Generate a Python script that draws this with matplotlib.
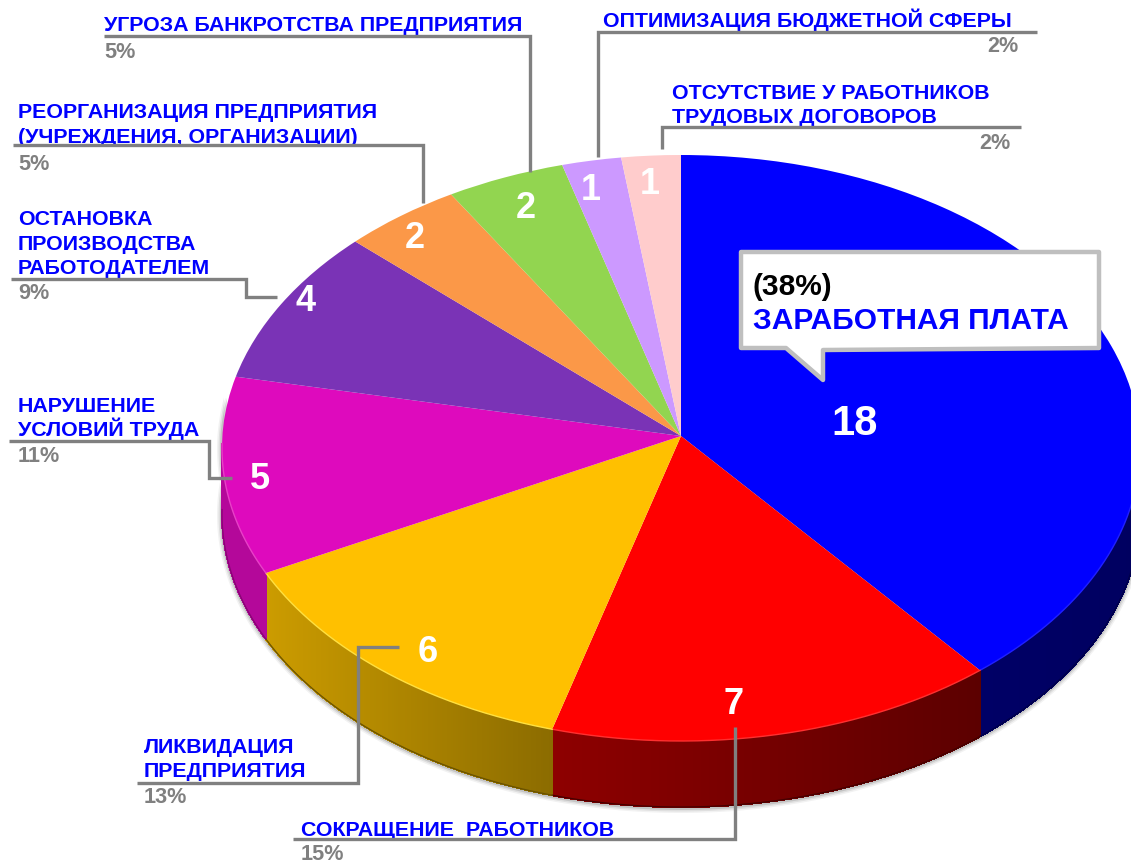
import numpy as np
import matplotlib
matplotlib.use("Agg")
import matplotlib.pyplot as plt
from matplotlib.collections import PolyCollection
from matplotlib.patches import Polygon

# ---- data ----
counts = [18, 7, 6, 5, 4, 2, 2, 1, 1]
count_labels = ["18", "7", "6", "5", "4", "2", "2", "1", "1"]
top_colors = ["#0000FF", "#FF0000", "#FFC000", "#DE0ABD", "#7A33B6", "#FB9848", "#92D550", "#CC99FF", "#FFCCCC"]
wall_left = ["#000066", "#8E0000", "#CC9C00", "#B4089A", "#5A2488", "#C0702F", "#6FA03C", "#9973BF", "#BF9999"]
wall_right = ["#000060", "#5C0000", "#8C6C00", "#B4089A", "#5A2488", "#C0702F", "#6FA03C", "#9973BF", "#BF9999"]
rim_colors = ["#2020FF", "#FF3030", "#FFE040", "#E840C8", "#8A44C6", "#FBA858", "#A2E560", "#D8B0FF", "#FFDDDD"]
category_labels = [
    "ЗАРАБОТНАЯ ПЛАТА", "СОКРАЩЕНИЕ  РАБОТНИКОВ", "ЛИКВИДАЦИЯ\nПРЕДПРИЯТИЯ",
    "НАРУШЕНИЕ\nУСЛОВИЙ ТРУДА", "ОСТАНОВКА\nПРОИЗВОДСТВА\nРАБОТОДАТЕЛЕМ",
    "РЕОРГАНИЗАЦИЯ ПРЕДПРИЯТИЯ\n(УЧРЕЖДЕНИЯ, ОРГАНИЗАЦИИ)", "УГРОЗА БАНКРОТСТВА ПРЕДПРИЯТИЯ",
    "ОПТИМИЗАЦИЯ БЮДЖЕТНОЙ СФЕРЫ", "ОТСУТСТВИЕ У РАБОТНИКОВ\nТРУДОВЫХ ДОГОВОРОВ",
]
percent_labels = ["(38%)", "15%", "13%", "11%", "9%", "5%", "5%", "2%", "2%"]

# ---- layout (pixels of the 1131x863 canvas) ----
W, H = 1131, 863
CX, CY, RX, RY = 681, 448, 459, 293
APEX_SHIFT = 12 / RY      # perspective: the slices meet above the ellipse centre
DEPTH = 66 / RY
WARP = 2.4                # perspective: degrees of angular shift at the sides

plt.rcParams["font.family"] = ["Liberation Sans", "DejaVu Sans"]
fig = plt.figure(figsize=(W / 100, H / 100), dpi=100, facecolor="white")
ax = fig.add_axes([0, 0, 1, 1], zorder=1)
wedges, _ = ax.pie(counts, colors=top_colors, startangle=90, counterclock=False,
                   radius=1, center=(0, 0), wedgeprops=dict(linewidth=0, zorder=5))
ax.set_aspect("auto")
ax.set_xlim((0 - CX) / RX, (W - CX) / RX)
ax.set_ylim((CY - H) / RY, CY / RY)
ax.axis("off")


def warp(theta):
    clock = np.radians(90 - theta)
    return theta + WARP * np.sin(clock)


for w in wedges:
    w.set_theta1(warp(w.theta1))
    w.set_theta2(warp(w.theta2))
    # move the meeting point of the slices up
    v = w.get_path().vertices
    v[np.hypot(v[:, 0], v[:, 1]) < 1e-6, 1] += APEX_SHIFT

# side wall built from the pie's own angles
for i, w in enumerate(wedges):
    t1, t2 = sorted((w.theta1, w.theta2))
    ts = np.linspace(t1, t2, int(max(t2 - t1, 1) * 3) + 2)
    vis = np.sin(np.radians(ts)) < 0.02
    if vis.sum() < 2:
        continue
    tv = ts[vis]
    x, y = np.cos(np.radians(tv)), np.sin(np.radians(tv))
    # gradient runs left to right on screen
    fr = (x - x.min()) / max(x.max() - x.min(), 1e-6)
    c0 = np.array(matplotlib.colors.to_rgb(wall_left[i]))
    c1 = np.array(matplotlib.colors.to_rgb(wall_right[i]))
    polys, cols = [], []
    for k in range(len(tv) - 1):
        polys.append([(x[k], y[k]), (x[k + 1], y[k + 1]),
                      (x[k + 1], y[k + 1] - DEPTH), (x[k], y[k] - DEPTH)])
        f = 0.5 * (fr[k] + fr[k + 1])
        cols.append(c0 + (c1 - c0) * f)
    ax.add_collection(PolyCollection(polys, facecolors=cols, edgecolors=cols, linewidths=0.8,
                                     antialiaseds=False, zorder=3))
    ax.plot(x, y - DEPTH, color=c1 * 0.75, lw=0.9, zorder=3.5)
    ax.plot(x, y, color=rim_colors[i], lw=1.0, zorder=6)

# soft shadow below the wall
tt = np.radians(np.linspace(170, 372, 300))
for grow, alpha in [(5, 0.05), (3.5, 0.08), (2, 0.12)]:
    sx, sy = np.cos(tt) * (RX + grow) / RX, np.sin(tt) * (RY + grow) / RY - DEPTH - 1 / RY
    ax.fill(np.r_[sx, sx[::-1]], np.r_[sy, sy[::-1] + DEPTH], color="black", alpha=alpha, lw=0, zorder=2)

# overlay in pixel coordinates for labels and leaders
ov = fig.add_axes([0, 0, 1, 1], zorder=2)
ov.set_xlim(0, W)
ov.set_ylim(H, 0)
ov.axis("off")
ov.patch.set_alpha(0)

BLUE, GREY = "#0000FF", "#808080"
def lab(x, y, s, color=BLUE, size=15.4, ha="left", z=7):
    ov.text(x, y, s, color=color, fontsize=size, fontweight="bold", ha=ha, va="baseline", zorder=z)

lay = {  # category index: (x, first baseline, line step, percent x, percent baseline, percent ha)
    6: (104, 31, 0, 104, 58, "left"),
    5: (18, 118, 25, 18, 170, "left"),
    4: (18, 225, 24.5, 18, 299, "left"),
    3: (18, 412, 24, 18, 462, "left"),
    2: (144, 753, 24, 144, 803, "left"),
    1: (301, 836, 0, 301, 860, "left"),
    7: (603, 27, 0, 1018, 52, "right"),
    8: (672, 99, 24, 1011, 149, "right"),
}
for i, (x, y, st, px, py, ha) in lay.items():
    for j, part in enumerate(category_labels[i].split("\n")):
        lab(x, y + j * st, part)
    lab(px, py, percent_labels[i], color=GREY, size=15.6, ha=ha)

leaders = [
    [(104, 36), (530, 36), (530, 172)],
    [(13, 145), (423, 145), (423, 203)],
    [(11, 279), (246, 279), (246, 297), (277, 297)],
    [(9, 441), (209, 441), (209, 478), (232, 478)],
    [(137, 783), (358, 783), (358, 647), (399, 647)],
    [(293, 839), (735, 839), (735, 727)],
    [(1037, 32), (598, 32), (598, 157)],
    [(1021, 127), (662, 127), (662, 149)],
]
for pts in leaders:
    xs, ys = zip(*pts)
    ov.plot(xs, ys, color=GREY, lw=2.4, solid_joinstyle="miter", solid_capstyle="butt", zorder=8)

num_pos = [(855, 419), (734, 700), (428, 648), (260, 475), (306, 297), (415, 234), (526, 204), (591, 186), (650, 180)]
num_sz = [30, 26, 26, 26, 26, 26, 26, 26, 26]
for (x, y), s, fs in zip(num_pos, count_labels, num_sz):
    ov.text(x, y, s, color="white", fontsize=fs, fontweight="bold", ha="center", va="center_baseline", zorder=7)

ov.add_patch(Polygon([(741, 252), (1099, 252), (1099, 348), (823, 350), (823, 380), (786, 348), (741, 348)],
                     closed=True, fc="white", ec="#BFBFBF", lw=3.2, joinstyle="round", zorder=9))
ov.text(753, 295, percent_labels[0], color="black", fontsize=21.5, fontweight="bold", zorder=10)
ov.text(753, 329, category_labels[0], color=BLUE, fontsize=21.5, fontweight="bold", zorder=10)

fig.savefig("out.png", dpi=100, facecolor="white")
